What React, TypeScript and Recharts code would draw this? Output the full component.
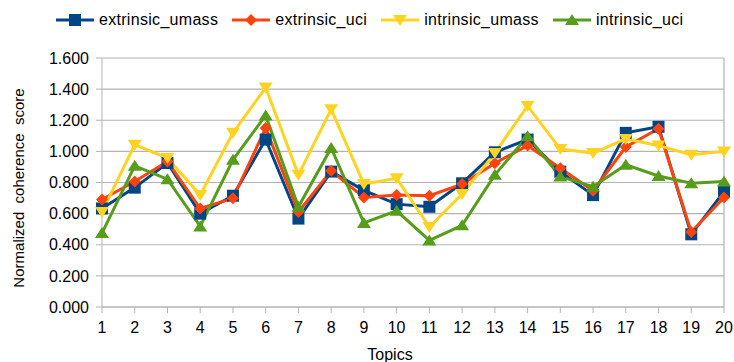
import React from 'react';
import { LineChart, Line, XAxis, YAxis, CartesianGrid, Legend, ReferenceLine } from 'recharts';

const topics = ['1', '2', '3', '4', '5', '6', '7', '8', '9', '10', '11', '12', '13', '14', '15', '16', '17', '18', '19', '20'];

const extrinsicUmass = [0.633, 0.767, 0.925, 0.6, 0.715, 1.076, 0.568, 0.87, 0.75, 0.661, 0.644, 0.795, 0.994, 1.076, 0.87, 0.719, 1.119, 1.158, 0.467, 0.741];
const extrinsicUci = [0.691, 0.806, 0.935, 0.633, 0.698, 1.151, 0.611, 0.875, 0.704, 0.719, 0.715, 0.79, 0.924, 1.037, 0.892, 0.747, 1.028, 1.145, 0.482, 0.704];
const intrinsicUmass = [0.611, 1.043, 0.957, 0.719, 1.119, 1.41, 0.849, 1.27, 0.79, 0.827, 0.514, 0.726, 0.989, 1.292, 1.015, 0.989, 1.08, 1.037, 0.978, 1.0];
const intrinsicUci = [0.475, 0.907, 0.821, 0.518, 0.946, 1.231, 0.644, 1.022, 0.54, 0.618, 0.428, 0.525, 0.849, 1.097, 0.838, 0.773, 0.914, 0.842, 0.795, 0.806];

const yTicks = [0, 0.2, 0.4, 0.6, 0.8, 1.0, 1.2, 1.4, 1.6];

type Shape = 'square' | 'diamond' | 'down' | 'up';

const series: { key: string; color: string; shape: Shape }[] = [
  { key: 'extrinsic_umass', color: '#004586', shape: 'square' },
  { key: 'extrinsic_uci', color: '#ff420e', shape: 'diamond' },
  { key: 'intrinsic_umass', color: '#ffd320', shape: 'down' },
  { key: 'intrinsic_uci', color: '#579d1c', shape: 'up' },
];

const data = topics.map((topic, i) => ({
  topic,
  extrinsic_umass: extrinsicUmass[i],
  extrinsic_uci: extrinsicUci[i],
  intrinsic_umass: intrinsicUmass[i],
  intrinsic_uci: intrinsicUci[i],
}));

const FONT = '"Liberation Sans", Arial, sans-serif';

function Marker({ cx, cy, shape, color }: { cx: number; cy: number; shape: Shape; color: string }) {
  if (cx == null || cy == null) return null;
  if (shape === 'square') {
    return <rect x={cx - 6} y={cy - 6} width={12} height={12} fill={color} />;
  }
  if (shape === 'diamond') {
    return <polygon points={`${cx},${cy - 6} ${cx + 6},${cy} ${cx},${cy + 6} ${cx - 6},${cy}`} fill={color} />;
  }
  if (shape === 'down') {
    return <polygon points={`${cx - 7},${cy - 5} ${cx + 7},${cy - 5} ${cx},${cy + 6}`} fill={color} />;
  }
  return <polygon points={`${cx - 7},${cy + 5} ${cx + 7},${cy + 5} ${cx},${cy - 6}`} fill={color} />;
}

function LegendContent() {
  return (
    <div
      style={{
        display: 'flex',
        alignItems: 'center',
        height: 24,
        fontFamily: FONT,
        fontSize: 16,
        letterSpacing: 0.3,
        color: '#000',
      }}
    >
      {series.map((s, i) => (
        <div key={s.key} style={{ display: 'flex', alignItems: 'center', marginLeft: i === 0 ? 0 : 14 }}>
          <svg width={38} height={14} style={{ display: 'block' }}>
            <line x1={0} y1={7} x2={38} y2={7} stroke={s.color} strokeWidth={3} />
            <Marker cx={19} cy={7} shape={s.shape} color={s.color} />
          </svg>
          <span style={{ marginLeft: 5 }}>{s.key}</span>
        </div>
      ))}
    </div>
  );
}

export default function App() {
  return (
    <div style={{ position: 'absolute', left: 0, top: 0, width: 734, height: 362, background: '#fff' }}>
      <LineChart width={734} height={362} data={data} margin={{ top: 34, right: 10, bottom: 0, left: 0 }}>
        <Legend
          verticalAlign="top"
          align="left"
          content={<LegendContent />}
          wrapperStyle={{ top: 8, left: 56, height: 24 }}
        />
        <CartesianGrid vertical={false} stroke="#b3b3b3" strokeWidth={1.2} />
        <ReferenceLine x="20" stroke="#b3b3b3" strokeWidth={1.2} />
        <XAxis
          dataKey="topic"
          height={55}
          stroke="#b3b3b3"
          tickSize={6}
          tickMargin={9}
          tick={{ fill: '#000', fontSize: 16, fontFamily: FONT }}
          interval={0}
          label={() => (
            <text x={390} y={360} textAnchor="middle" fontSize={16} fontFamily={FONT} fill="#000">
              Topics
            </text>
          )}
        />
        <YAxis
          width={102}
          domain={[0, 1.6]}
          ticks={yTicks}
          stroke="#b3b3b3"
          tickSize={6}
          tickMargin={7}
          tickFormatter={(v: number) => v.toFixed(3)}
          tick={{ fill: '#000', fontSize: 16, fontFamily: FONT }}
          label={() => (
            <text
              x={18}
              y={188}
              transform="rotate(-90, 18, 188)"
              textAnchor="middle"
              dominantBaseline="central"
              fontSize={15}
              fontFamily={FONT}
              fill="#000"
              style={{ whiteSpace: 'pre' }}
            >
              {'Normalized  coherence  score'}
            </text>
          )}
        />
        {series.map((s) => (
          <Line
            key={s.key}
            dataKey={s.key}
            stroke={s.color}
            strokeWidth={3}
            isAnimationActive={false}
            dot={(p: any) => <Marker key={`${s.key}-${p.index}`} cx={p.cx} cy={p.cy} shape={s.shape} color={s.color} />}
            activeDot={false}
          />
        ))}
      </LineChart>
    </div>
  );
}
